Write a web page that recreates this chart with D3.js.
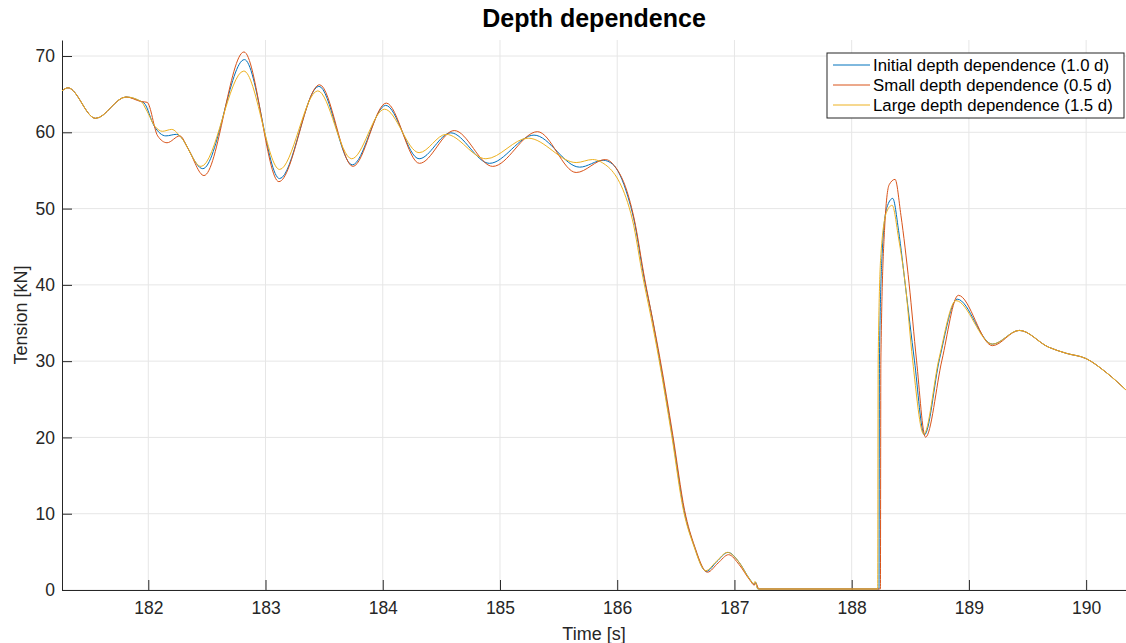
<!DOCTYPE html>
<html lang="en">
<head>
<meta charset="UTF-8">
<title>Depth dependence</title>
<script src="https://cdn.jsdelivr.net/npm/d3@7/dist/d3.min.js"></script>
<style>
  * { margin: 0; padding: 0; box-sizing: border-box; }
  body { background: #fff; font-family: 'Liberation Sans', Arial, sans-serif; overflow: hidden; }
  .grid line { stroke: #e6e6e6; stroke-width: 1; }
  .axis text { fill: #262626; font-size: 17.5px; font-family: 'Liberation Sans', Arial, sans-serif; }
  .axis path, .axis line { stroke: #262626; }
  .series { fill: none; stroke-width: 1; }
</style>
</head>
<body>
<svg id="chart" width="1126" height="643"></svg>
<script>
// ─── Data ────────────────────────────────────────────────────────────────────

const xTicks = [182, 183, 184, 185, 186, 187, 188, 189, 190];
const yTicks = [0, 10, 20, 30, 40, 50, 60, 70];

const seriesNames = [
  'Initial depth dependence (1.0 d)',
  'Small depth dependence (0.5 d)',
  'Large depth dependence (1.5 d)',
];
const seriesColors = ['#0072BD', '#D95319', '#EDB120'];

// shared start, all three runs coincide here
const commonStart = [
  [181.264, 65.3], [181.315, 65.7], [181.55, 61.7], [181.81, 64.5], [181.94, 63.9],
];

// shared tail after the re-tension
const commonTail = [
  [189.20, 32.1], [189.43, 33.9], [189.68, 31.7], [189.83, 30.9], [190.0, 30.2],
  [190.17, 28.4], [190.36, 25.8],
];

const initialDepth = [
  [181.965, 63.7], [182.05, 60.7], [182.15, 59.4], [182.24, 59.6], [182.465, 55.1],
  [182.82, 69.4], [183.12, 53.8], [183.455, 65.9], [183.74, 55.6], [184.025, 63.4],
  [184.31, 56.4], [184.58, 59.8], [184.91, 55.8], [185.29, 59.5], [185.68, 55.3],
  [185.88, 56.2], [185.96, 55.7], [186.09, 51.5], [186.14, 48.6], [186.23, 40.7],
  [186.30, 35.4], [186.36, 30.2], [186.47, 20.1], [186.57, 10.3], [186.655, 5.7],
  [186.76, 2.3], [186.85, 3.6], [186.945, 4.8], [187.04, 3.5], [187.13, 1.3],
  [187.17, 0.6], [187.18, 0.9], [187.20, 0], [188.233, 0], [188.237, 30],
  [188.26, 44], [188.30, 50], [188.35, 51.2], [188.40, 47], [188.46, 39.5],
  [188.535, 30], [188.62, 20.2], [188.75, 30.2], [188.90, 38.0],
];

const smallDepth = [
  [181.99, 63.8], [182.08, 59.4], [182.16, 58.5], [182.27, 59.4], [182.34, 57.7],
  [182.475, 54.2], [182.816, 70.4], [183.114, 53.4], [183.461, 66.1], [183.745, 55.4],
  [184.03, 63.7], [184.313, 55.8], [184.61, 60.1], [184.938, 55.4], [185.32, 59.95],
  [185.65, 54.6], [185.90, 56.3], [185.975, 55.5], [186.10, 51.3], [186.145, 48.5],
  [186.235, 40.6], [186.30, 35.5], [186.365, 30.2], [186.475, 20.1], [186.575, 10.3],
  [186.66, 5.6], [186.77, 2.2], [186.86, 3.4], [186.95, 4.5], [187.04, 3.2],
  [187.13, 1.2], [187.17, 0.5], [187.18, 0.8], [187.21, 0], [188.245, 0],
  [188.249, 30], [188.28, 47], [188.32, 53], [188.37, 53.7], [188.42, 49],
  [188.49, 40], [188.553, 30], [188.63, 19.9], [188.77, 30], [188.91, 38.5],
  [189.20, 31.9],
];

const largeDepth = [
  [181.98, 62.9], [182.06, 60.6], [182.12, 60.0], [182.2, 60.25], [182.28, 59.2],
  [182.45, 55.4], [182.815, 67.9], [183.12, 55.0], [183.446, 65.3], [183.735, 56.4],
  [184.015, 62.9], [184.31, 57.2], [184.54, 59.6], [184.88, 56.4], [185.24, 59.1],
  [185.65, 55.9], [185.79, 56.3], [185.86, 56.0], [186.075, 51.3], [186.13, 48.4],
  [186.22, 40.8], [186.29, 35.5], [186.355, 30.2], [186.465, 20.1], [186.565, 10.3],
  [186.65, 5.8], [186.755, 2.4], [186.845, 3.6], [186.94, 4.8], [187.035, 3.6],
  [187.125, 1.4], [187.165, 0.7], [187.175, 1.0], [187.20, 0], [188.222, 0],
  [188.226, 30], [188.25, 44], [188.30, 49.5], [188.345, 50.3], [188.40, 46],
  [188.457, 40], [188.52, 30], [188.615, 20.3], [188.745, 30.2], [188.89, 37.8],
];

// ─── Layout ─────────────────────────────────────────────────────────────────

const W = 1126, H = 643;
const margin = { top: 40, right: 0, bottom: 53, left: 62 };
const innerW = W - margin.left - margin.right;
const innerH = H - margin.top - margin.bottom;

const x = d3.scaleLinear().domain([181.264, 190.34]).range([0, innerW]);
const y = d3.scaleLinear().domain([0, 72.1]).range([innerH, 0]);

const svg = d3.select('#chart');
const g = svg.append('g').attr('transform', `translate(${margin.left},${margin.top})`);

svg.append('defs').append('clipPath').attr('id', 'plotClip')
  .append('rect').attr('y', -2).attr('width', innerW).attr('height', innerH + 2);

// grid
g.append('g').attr('class', 'grid')
  .selectAll('line.v').data(xTicks).enter().append('line')
  .attr('x1', d => x(d)).attr('x2', d => x(d))
  .attr('y1', 0).attr('y2', innerH);
g.append('g').attr('class', 'grid')
  .selectAll('line.h').data(yTicks).enter().append('line')
  .attr('x1', 0).attr('x2', innerW)
  .attr('y1', d => y(d)).attr('y2', d => y(d));

// axes (MATLAB style: ticks pointing inward)
const xAxis = g.append('g').attr('class', 'axis')
  .attr('transform', `translate(0,${innerH})`)
  .call(d3.axisBottom(x).tickValues(xTicks).tickFormat(d3.format('d'))
    .tickSizeInner(-10).tickSizeOuter(0));
xAxis.selectAll('text').attr('y', 12).attr('dy', '0.71em');

const yAxis = g.append('g').attr('class', 'axis')
  .call(d3.axisLeft(y).tickValues(yTicks).tickFormat(d3.format('d'))
    .tickSizeInner(-10).tickSizeOuter(0));
yAxis.selectAll('text').attr('x', -7);

// series (drawn over the axis line, as in the original)
const line = d3.line()
  .x(d => x(d[0]))
  .y(d => y(d[1]))
  .curve(d3.curveMonotoneX);

const seriesData = [
  commonStart.concat(initialDepth, commonTail),
  commonStart.concat(smallDepth, commonTail.slice(1)),
  commonStart.concat(largeDepth, commonTail),
];

const plot = g.append('g').attr('clip-path', 'url(#plotClip)');
seriesData.forEach((pts, i) => {
  plot.append('path')
    .attr('class', 'series')
    .attr('d', line(pts))
    .attr('transform', 'translate(0,-1)')
    .attr('stroke', seriesColors[i]);
});

// titles
svg.append('text')
  .attr('x', margin.left + innerW / 2).attr('y', 27)
  .attr('text-anchor', 'middle')
  .style('font-size', '25px').style('font-weight', 'bold').style('fill', '#000')
  .text('Depth dependence');

svg.append('text')
  .attr('x', margin.left + innerW / 2).attr('y', 640)
  .attr('text-anchor', 'middle')
  .style('font-size', '18px').style('fill', '#262626')
  .text('Time [s]');

svg.append('text')
  .attr('transform', `translate(27,${margin.top + innerH / 2}) rotate(-90)`)
  .attr('text-anchor', 'middle')
  .style('font-size', '18px').style('fill', '#262626')
  .text('Tension [kN]');

// legend
const legend = svg.append('g').attr('transform', 'translate(827,53)');
legend.append('rect')
  .attr('width', 297).attr('height', 65)
  .attr('fill', '#fff').attr('stroke', '#262626').attr('stroke-width', 1);
seriesNames.forEach((name, i) => {
  const row = legend.append('g').attr('transform', `translate(0,${12 + i * 20})`);
  row.append('line')
    .attr('x1', 6).attr('x2', 43).attr('y1', 0).attr('y2', 0)
    .attr('stroke', seriesColors[i]).attr('stroke-width', 1);
  row.append('text')
    .attr('x', 46).attr('y', 0).attr('dy', '0.35em')
    .style('font-size', '16.8px').style('fill', '#000')
    .text(name);
});
</script>
</body>
</html>
